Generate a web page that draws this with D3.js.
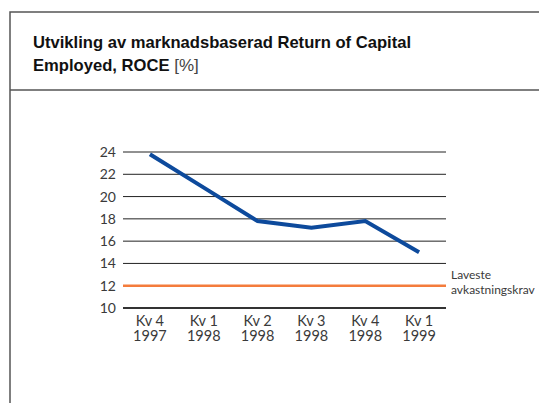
<!DOCTYPE html>
<html>
<head>
<meta charset="utf-8">
<script src="https://cdn.jsdelivr.net/npm/d3@7"></script>
<style>
  body { margin: 0; background: #fff; }
  svg { display: block; }
</style>
</head>
<body>
<div id="chart"></div>
<script>
var categories = [["Kv 4", "1997"], ["Kv 1", "1998"], ["Kv 2", "1998"], ["Kv 3", "1998"], ["Kv 4", "1998"], ["Kv 1", "1999"]];
var roce = [23.8, 20.8, 17.8, 17.2, 17.8, 15.0];
var yTicks = [10, 12, 14, 16, 18, 20, 22, 24];
var minRequirement = 12;
var requirementLabel = ["Laveste", "avkastningskrav"];
var titleLines = ["Utvikling av marknadsbaserad Return of Capital", "Employed, ROCE"];

var W = 539, H = 403;
var svg = d3.select('#chart').append('svg')
  .attr('width', W)
  .attr('height', H);

// frame
svg.append('path')
  .attr('d', 'M10 ' + (H + 2) + 'V12H' + (W + 2) + 'M10 90H' + (W + 2))
  .attr('fill', 'none')
  .attr('stroke', '#555')
  .attr('stroke-width', 1.5);

var title = svg.append('g')
  .attr('font-family', 'Liberation Sans, Arial, sans-serif')
  .attr('font-size', 16.6)
  .attr('fill', '#111');
title.append('text').attr('x', 33).attr('y', 48)
  .attr('font-weight', 'bold').text(titleLines[0]);
var t2 = title.append('text').attr('x', 33).attr('y', 71);
t2.append('tspan').attr('font-weight', 'bold').text(titleLines[1]);
t2.append('tspan').attr('font-weight', 'normal').attr('fill', '#444').attr('font-size', 17).text(' [%]');

var x = d3.scaleBand().domain(d3.range(categories.length)).range([123, 446]);
var y = d3.scaleLinear().domain([10, 24]).range([308, 152]);

var font = 'Lato, Open Sans, sans-serif';

// gridlines
svg.append('g').selectAll('line')
  .data(yTicks.filter(function(d) { return d !== minRequirement; }))
  .enter().append('line')
  .attr('x1', 123).attr('x2', 446)
  .attr('y1', function(d) { return y(d); })
  .attr('y2', function(d) { return y(d); })
  .attr('stroke', function(d) { return d === 10 ? '#333' : '#222'; })
  .attr('stroke-width', function(d) { return d === 10 ? 2 : 1; });

// y tick labels
svg.append('g').selectAll('text')
  .data(yTicks)
  .enter().append('text')
  .attr('x', 116)
  .attr('y', function(d) { return y(d) + 5; })
  .attr('text-anchor', 'end')
  .attr('font-family', font)
  .attr('font-size', 14)
  .attr('fill', '#3a3a3a')
  .text(function(d) { return d; });

// x labels
var xl = svg.append('g').selectAll('text')
  .data(categories)
  .enter().append('text')
  .attr('text-anchor', 'middle')
  .attr('font-family', font)
  .attr('font-size', 14.5)
  .attr('fill', '#3a3a3a');
xl.append('tspan')
  .attr('x', function(d, i) { return x(i) + x.bandwidth() / 2; })
  .attr('y', 326)
  .text(function(d) { return d[0]; });
xl.append('tspan')
  .attr('x', function(d, i) { return x(i) + x.bandwidth() / 2; })
  .attr('y', 341)
  .text(function(d) { return d[1]; });

// requirement line
svg.append('line')
  .attr('x1', 123).attr('x2', 446)
  .attr('y1', y(minRequirement)).attr('y2', y(minRequirement))
  .attr('stroke', '#f47c3c')
  .attr('stroke-width', 2.5);

svg.append('text')
  .attr('font-family', font)
  .attr('font-size', 12)
  .attr('fill', '#3a3a3a')
  .selectAll('tspan')
  .data(requirementLabel)
  .enter().append('tspan')
  .attr('x', 451)
  .attr('y', function(d, i) { return 279 + i * 14.5; })
  .text(function(d) { return d; });

// ROCE line
var line = d3.line()
  .x(function(d, i) { return x(i) + x.bandwidth() / 2; })
  .y(function(d) { return y(d); });

svg.append('path')
  .datum(roce)
  .attr('d', line)
  .attr('fill', 'none')
  .attr('stroke', '#0d4a9c')
  .attr('stroke-width', 4);
</script>
</body>
</html>
